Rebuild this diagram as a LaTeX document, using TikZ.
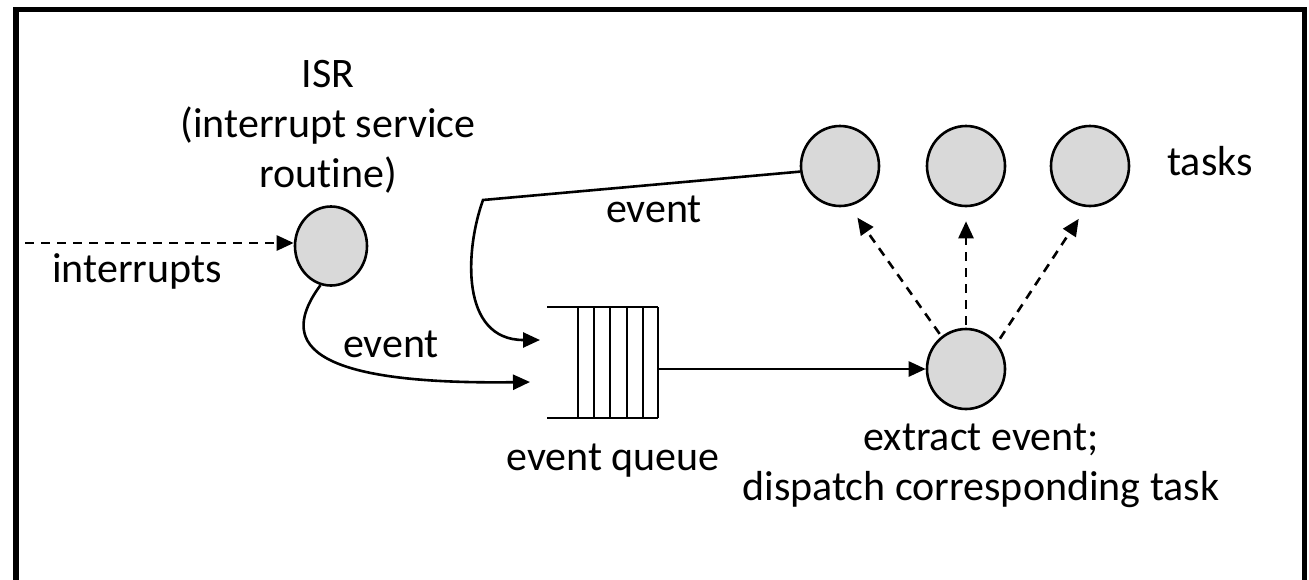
\documentclass[tikz,border=0pt]{standalone}
\usepackage{fontspec}
\setmainfont{Carlito}[Ligatures={NoCommon}]
\usetikzlibrary{arrows.meta,shapes.geometric}
\definecolor{procfill}{HTML}{D9D9D9}
\begin{document}
\begin{tikzpicture}[x=1pt,y=-1pt,
  txt/.style={font=\fontsize{42}{50}\selectfont, inner sep=0pt},
  proc/.style={ellipse, draw=black, line width=2.6pt, fill=procfill, minimum width=78pt, minimum height=80pt, inner sep=0pt},
  conn/.style={line width=2.6pt, -{Triangle[length=17pt,width=15pt]}},
  dconn/.style={conn, dash pattern=on 9pt off 7pt},
  qline/.style={line width=2.2pt}]
\useasboundingbox (0,0) rectangle (1309,579);
\begin{scope}
\clip (0,0) rectangle (1309,579);
\draw[line width=5.5pt] (16,9.5) rectangle (1304.5,640);
\end{scope}

% process nodes
\node[proc, minimum width=72pt, minimum height=79pt] (isr) at (331,246) {};
\node[proc] (t1) at (840,166) {};
\node[proc] (t2) at (966,166) {};
\node[proc] (t3) at (1090,166) {};
\node[proc] (disp) at (966,369) {};

% event queue
\node[minimum width=111pt, minimum height=111pt, inner sep=0pt, outer sep=0pt] (queue) at (602.5,362.5) {};
\draw[qline] (queue.north west) -- (queue.north east);
\draw[qline] (queue.south west) -- (queue.south east);
\foreach \dx in {31,47,63,80,96,111}
  \draw[qline] ([xshift=\dx pt]queue.north west) -- ([xshift=\dx pt]queue.south west);

% connectors
\coordinate (irqsrc) at (25,243);
\draw[dconn] (irqsrc) -- (irqsrc -| isr.west);

\coordinate (qin1) at (530,382);
\draw[conn] (isr.-105) .. controls (280,340) and (300,385) .. (qin1);

\coordinate (bend) at (483,200);
\coordinate (qin2) at (540,340);
\draw[conn] (t1.188) -- (bend) .. controls (465,250) and (460,340) .. (qin2);

\draw[conn] (queue.east |- disp.west) -- (disp.west);

\draw[dconn, shorten <=3pt, shorten >=14pt] (disp.127) -- (t1.-77);
\draw[dconn, shorten <=3pt, shorten >=14pt] (disp.90) -- (t2.-90);
\draw[dconn, shorten <=5pt, shorten >=14pt] (disp.40) -- (t3.-95);

% labels
\node[txt, align=center, anchor=base] (isrlbl) at (328,187) {ISR\\(interrupt service\\routine)};
\node[txt, anchor=base] (irqlbl) at (137,282) {interrupts};
\node[txt, anchor=base] (ev1) at (391,357) {event};
\node[txt, anchor=base] (ev2) at (654,222) {event};
\node[txt, anchor=base] (tasklbl) at (1210,175) {tasks};
\node[txt, anchor=base] (qlbl) at (613,470) {event queue};
\node[txt, align=center, anchor=base] (displbl) at (981,500) {extract event;\\dispatch corresponding task};
\end{tikzpicture}
\end{document}
